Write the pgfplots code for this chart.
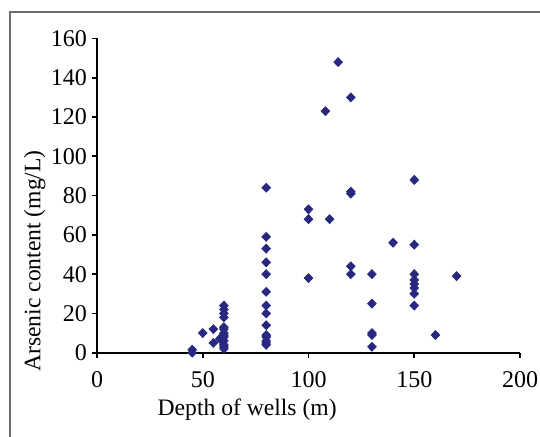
\documentclass[border=0pt]{standalone}
\usepackage{fontspec}
\setmainfont{Liberation Serif}
\usepackage{pgfplots}
\pgfplotsset{compat=1.18}

\definecolor{ptblue}{RGB}{40,40,128}
\definecolor{framegray}{RGB}{110,110,110}

\begin{document}
\begin{tikzpicture}
% 1 px of the reference = 0.5bp
\begin{axis}[
    at={(48.5bp,42.15bp)}, anchor=south west,
    width=211.5bp, height=157.1bp, scale only axis,
    xmin=0, xmax=200, ymin=0, ymax=160,
    xtick={0,50,...,200}, ytick={0,20,...,160},
    axis lines=left,
    axis line style={-, line width=0.9pt},
    tick align=outside,
    major tick length=2.6bp,
    tick style={line width=0.9pt, black},
    minor tick num=0,
    clip=false,
    /pgf/number format/assume math mode=true,
    tick label style={font=\fontsize{12bp}{14bp}\selectfont},
    xticklabel style={yshift=-3.5bp},
    yticklabel style={xshift=1bp},
    label style={font=\fontsize{11.8bp}{14bp}\selectfont},
    xlabel={Depth of wells (m)},
    ylabel={Arsenic content (mg/L)},
    xlabel style={at={(axis description cs:0.355,-0.182)}, anchor=center},
    ylabel style={at={(axis description cs:-0.147,0.292)}, anchor=center, rotate=0},
]
\addplot[only marks, mark=diamond*, mark size=2.2bp, ptblue,
    mark options={fill=ptblue, draw=ptblue, xscale=1.3}] coordinates {
    (45,0) (45,1.5) (50,10) (55,12) (55,5) (58,7)
    (60,2) (60,3) (60,4) (60,6) (60,8) (60,9) (60,10) (60,12) (60,13)
    (60,18) (60,20) (60,22) (60,24)
    (80,4) (80,5) (80,6) (80,8) (80,9) (80,14) (80,20) (80,24) (80,31)
    (80,40) (80,46) (80,53) (80,59) (80,84)
    (100,38) (100,68) (100,73) (108,123) (110,68) (114,148)
    (120,130) (120,82) (120,81) (120,44) (120,40)
    (130,40) (130,25) (130,10) (130,9) (130,3)
    (140,56)
    (150,88) (150,55) (150,40) (150,37) (150,35) (150,33) (150,30) (150,24)
    (160,9) (170,39)
};
\end{axis}
% outer chart frame (cropped on the right and bottom)
\draw[framegray, line width=0.8bp] (5bp,0) -- (5bp,212.5bp) -- (270bp,212.5bp);
\pgfresetboundingbox
\useasboundingbox (0,0) rectangle (270bp,218.5bp);
\end{tikzpicture}
\end{document}
